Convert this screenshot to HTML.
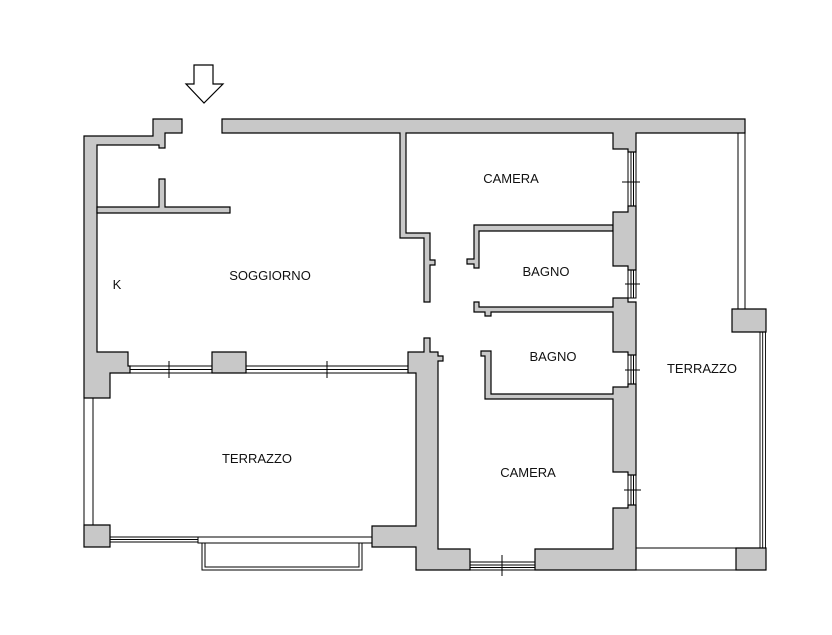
<!DOCTYPE html>
<html><head><meta charset="utf-8"><style>
html,body{margin:0;padding:0;background:#fff;}
svg{display:block;}
text{font-family:"Liberation Sans",sans-serif;font-size:13px;fill:#111;}
</style></head><body>
<svg width="832" height="635" viewBox="0 0 832 635" xmlns="http://www.w3.org/2000/svg">
<g fill="#c8c8c8" stroke="#000" stroke-width="1.2">
<polygon points="194,65 213,65 213,84 223,84 204,103 186,84 194,84" fill="#fff"/>
<polygon points="84,136 153,136 153,119 182,119 182,133 165,133 165,148 159,148 159,145 97,145 97,352 128,352 128,366 130,366 130,373 110,373 110,398 84,398"/>
<polygon points="97,207 159,207 159,179 165,179 165,207 230,207 230,213 97,213"/>
<polygon points="212,352 246,352 246,373 212,373"/>
<polygon points="222,119 745,119 745,133 636,133 636,152 628,152 628,149 613,149 613,133 406,133 406,233 430,233 430,260 435,260 435,265 430,265 430,302 424,302 424,238 400,238 400,133 222,133"/>
<!-- bath1 top wall -->
<polygon points="474,225 613,225 613,231 479,231 479,268 474,268 474,264 467,264 467,259 474,259"/>
<polygon points="613,212 628,212 628,206 636,206 636,270 628,270 628,266 613,266"/>
<polygon points="613,298 628,298 628,302 636,302 636,355 628,355 628,352 613,352 613,312 491,312 491,316 485,316 485,312 474,312 474,302 479,302 479,307 613,307"/>
<polygon points="613,387 628,387 628,384 636,384 636,475 628,475 628,472 613,472 613,399 485,399 485,356 481,356 481,351 491,351 491,394 613,394"/>
<polygon points="613,508 628,508 628,505 636,505 636,570 535,570 535,549 613,549"/>
<polygon points="424,338 430,338 430,352 438,352 438,356 443,356 443,361 438,361 438,549 470,549 470,570 416,570 416,547 372,547 372,526 416,526 416,373 408,373 408,352 424,352"/>
<polygon points="84,525 110,525 110,547 84,547"/>
<polygon points="732,309 766,309 766,332 732,332"/>
<polygon points="736,548 766,548 766,570 736,570"/>
</g>
<g fill="none" stroke="#000" stroke-width="1">
<rect x="130" y="366" width="82" height="7"/><line x1="130" y1="369.5" x2="212" y2="369.5"/>
<rect x="246" y="366" width="162" height="7"/><line x1="246" y1="369.5" x2="408" y2="369.5"/>
<line x1="169" y1="361" x2="169" y2="378"/><line x1="327" y1="361" x2="327" y2="378"/>
<rect x="84" y="398" width="9" height="127"/>
<rect x="110" y="537" width="88" height="5"/><line x1="110" y1="539.5" x2="198" y2="539.5"/>
<rect x="198" y="537" width="174" height="6"/>
<rect x="202" y="543" width="160" height="27"/><rect x="205" y="543" width="154" height="24"/>
<rect x="470" y="562" width="65" height="8"/><line x1="470" y1="565" x2="535" y2="565"/><line x1="470" y1="567.5" x2="535" y2="567.5"/>
<line x1="502" y1="555" x2="502" y2="576"/>
<rect x="628" y="152" width="8" height="54"/><line x1="631" y1="152" x2="631" y2="206"/><line x1="633.5" y1="152" x2="633.5" y2="206"/>
<line x1="622" y1="182" x2="640" y2="182"/>
<rect x="628" y="270" width="8" height="28"/><line x1="631" y1="270" x2="631" y2="298"/><line x1="633.5" y1="270" x2="633.5" y2="298"/>
<line x1="625" y1="284" x2="640" y2="284"/>
<rect x="628" y="355" width="8" height="29"/><line x1="631" y1="355" x2="631" y2="384"/><line x1="633.5" y1="355" x2="633.5" y2="384"/>
<line x1="625" y1="370" x2="640" y2="370"/>
<rect x="628" y="475" width="8" height="30"/><line x1="631" y1="475" x2="631" y2="505"/><line x1="633.5" y1="475" x2="633.5" y2="505"/>
<line x1="624" y1="490" x2="641" y2="490"/>
<rect x="738" y="133" width="7" height="176"/>
<g stroke-width="0.9"><line x1="760" y1="332" x2="760" y2="548"/><line x1="762.7" y1="332" x2="762.7" y2="548"/><line x1="765.5" y1="332" x2="765.5" y2="548"/></g>
<line x1="636" y1="548" x2="736" y2="548"/><line x1="636" y1="570" x2="736" y2="570"/>
</g>
<text x="511" y="183" text-anchor="middle">CAMERA</text>
<text x="546" y="276" text-anchor="middle">BAGNO</text>
<text x="553" y="361" text-anchor="middle">BAGNO</text>
<text x="702" y="373" text-anchor="middle">TERRAZZO</text>
<text x="270" y="280" text-anchor="middle">SOGGIORNO</text>
<text x="117" y="289" text-anchor="middle">K</text>
<text x="257" y="463" text-anchor="middle">TERRAZZO</text>
<text x="528" y="477" text-anchor="middle">CAMERA</text>
</svg>
</body></html>
